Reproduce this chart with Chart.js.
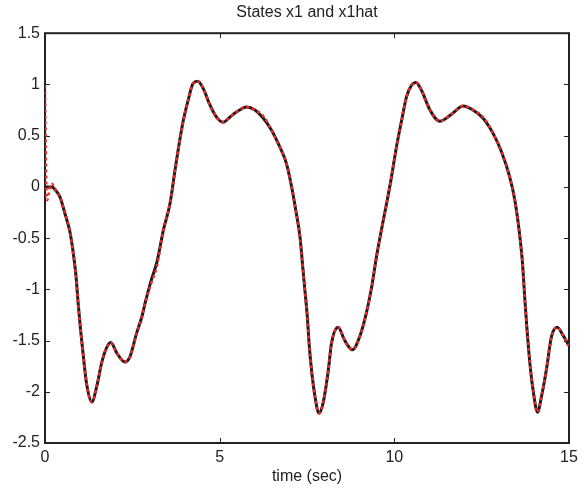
<!DOCTYPE html>
<html>
<head>
<meta charset="utf-8">
<script src="https://cdn.jsdelivr.net/npm/chart.js@4.4.1/dist/chart.umd.min.js"></script>
<style>
  html, body { margin: 0; padding: 0; background: #fff; }
  #wrap { width: 587px; height: 490px; }
</style>
</head>
<body>
<div id="wrap"><canvas id="chart" width="587" height="490"></canvas></div>
<script>
// time (sec)
const times = [
  0, 0.02, 0.04, 0.06, 0.10, 0.15, 0.20, 0.27, 0.43, 0.57,
  0.72, 0.81, 0.89, 0.95, 1.02, 1.10, 1.19, 1.34, 1.48, 1.62,
  1.75, 1.88, 2.07, 2.29, 2.43, 2.62, 2.77, 2.89, 3.05, 3.20,
  3.39, 3.58, 3.72, 3.84, 3.96, 4.10, 4.24, 4.37, 4.53, 4.72,
  4.91, 5.10, 5.29, 5.48, 5.77, 6.01, 6.25, 6.49, 6.72, 6.91,
  7.06, 7.18, 7.30, 7.37, 7.44, 7.51, 7.56, 7.63, 7.73, 7.84,
  7.96, 8.11, 8.20, 8.39, 8.58, 8.80, 9.01, 9.20, 9.35, 9.49,
  9.63, 9.78, 9.92, 10.06, 10.21, 10.35, 10.49, 10.62, 10.78, 11.02,
  11.30, 11.64, 11.97, 12.25, 12.54, 12.83, 13.07, 13.30, 13.45, 13.57,
  13.67, 13.73, 13.80, 13.88, 13.97, 14.10, 14.21, 14.35, 14.50, 14.66,
  14.83, 15.00
];

// state x1 (black solid)
const x1 = [
  0.00, 0.00, 0.00, 0.00, 0.00, 0.00, 0.00, -0.02, -0.10, -0.26,
  -0.45, -0.65, -0.88, -1.14, -1.40, -1.66, -1.92, -2.10, -1.95, -1.72,
  -1.58, -1.52, -1.63, -1.71, -1.66, -1.43, -1.27, -1.10, -0.90, -0.74,
  -0.42, -0.16, 0.16, 0.42, 0.65, 0.85, 1.01, 1.03, 0.96, 0.80,
  0.68, 0.63, 0.68, 0.73, 0.78, 0.75, 0.67, 0.55, 0.39, 0.23,
  0.00, -0.23, -0.49, -0.75, -1.01, -1.27, -1.53, -1.79, -2.05, -2.21,
  -2.11, -1.79, -1.53, -1.37, -1.50, -1.59, -1.46, -1.23, -0.98, -0.68,
  -0.42, -0.16, 0.10, 0.39, 0.65, 0.88, 0.99, 1.02, 0.94, 0.75,
  0.64, 0.71, 0.79, 0.75, 0.67, 0.52, 0.34, 0.10, -0.13, -0.42,
  -0.75, -1.07, -1.40, -1.72, -1.98, -2.20, -2.05, -1.79, -1.46, -1.37,
  -1.45, -1.55
];

// estimate x1hat (red dotted)
const x1hat = [
  0.99, 0.45, -0.05, -0.13, -0.08, 0.01, 0.03, -0.01, -0.10, -0.26,
  -0.45, -0.65, -0.88, -1.14, -1.40, -1.66, -1.92, -2.10, -1.95, -1.72,
  -1.58, -1.52, -1.63, -1.71, -1.66, -1.43, -1.27, -1.10, -0.93, -0.78,
  -0.42, -0.16, 0.16, 0.42, 0.65, 0.85, 1.01, 1.03, 0.96, 0.80,
  0.68, 0.63, 0.68, 0.73, 0.78, 0.75, 0.69, 0.55, 0.39, 0.23,
  0.00, -0.23, -0.49, -0.75, -1.01, -1.27, -1.53, -1.79, -2.05, -2.21,
  -2.11, -1.79, -1.53, -1.37, -1.50, -1.59, -1.46, -1.23, -0.98, -0.68,
  -0.42, -0.16, 0.10, 0.39, 0.65, 0.88, 0.99, 1.02, 0.94, 0.75,
  0.64, 0.71, 0.79, 0.75, 0.68, 0.52, 0.34, 0.10, -0.13, -0.42,
  -0.75, -1.07, -1.40, -1.72, -1.98, -2.20, -2.05, -1.79, -1.46, -1.37,
  -1.45, -1.55
];

const xTicks = [0, 5, 10, 15];
const yTicks = [-2.5, -2, -1.5, -1, -0.5, 0, 0.5, 1, 1.5];

const ink = '#222';
Chart.defaults.font.family = '"Liberation Sans", Arial, Helvetica, sans-serif';
Chart.defaults.font.size = 16;
Chart.defaults.color = ink;

// matlab style box with inward ticks
const boxPlugin = {
  id: 'box',
  beforeDatasetsDraw(chart) {
    const {ctx, chartArea: a, scales} = chart;
    ctx.save();
    ctx.strokeStyle = ink;
    ctx.lineWidth = 1;
    xTicks.forEach(v => {
      const px = Math.round(scales.x.getPixelForValue(v)) + 0.5;
      ctx.beginPath();
      ctx.moveTo(px, a.bottom); ctx.lineTo(px, a.bottom - 5);
      ctx.moveTo(px, a.top); ctx.lineTo(px, a.top + 5);
      ctx.stroke();
    });
    yTicks.forEach(v => {
      const py = Math.round(scales.y.getPixelForValue(v)) + 0.5;
      ctx.beginPath();
      ctx.moveTo(a.left, py); ctx.lineTo(a.left + 5, py);
      ctx.moveTo(a.right, py); ctx.lineTo(a.right - 5, py);
      ctx.stroke();
    });
    ctx.lineWidth = 2;
    ctx.strokeRect(a.left, a.top, a.right - a.left, a.bottom - a.top);
    ctx.restore();
  }
};

new Chart("chart", {
  type: "line",
  data: {
    datasets: [{
      label: 'x1',
      data: times.map((t, i) => ({x: t, y: x1[i]})),
      borderColor: '#1c1c1c',
      borderWidth: 3,
      pointRadius: 0,
      cubicInterpolationMode: 'monotone',
      fill: false,
      order: 1
    }, {
      label: 'x1hat',
      data: times.map((t, i) => ({x: t, y: x1hat[i]})),
      borderColor: '#f02828',
      borderWidth: 2.5,
      borderDash: [3, 3],
      pointRadius: 0,
      cubicInterpolationMode: 'monotone',
      fill: false,
      order: 0
    }]
  },
  options: {
    responsive: false,
    animation: false,
    layout: {padding: {left: 0, right: 18, top: 0, bottom: 0}},
    plugins: {
      legend: {display: false},
      tooltip: {enabled: false},
      title: {
        display: true,
        text: 'States x1 and x1hat',
        fullSize: false,
        color: ink,
        font: {size: 16, weight: 'normal'},
        padding: {top: 3, bottom: 11}
      }
    },
    scales: {
      x: {
        type: 'linear',
        min: 0,
        max: 15,
        afterBuildTicks: s => { s.ticks = xTicks.map(v => ({value: v})); },
        afterFit: s => { s.height = 47; },
        grid: {display: false, drawTicks: false},
        border: {display: false},
        ticks: {padding: 5, maxRotation: 0, autoSkip: false, color: ink, callback: v => String(v)},
        title: {display: true, text: 'time (sec)', color: ink, padding: 4, font: {size: 16}}
      },
      y: {
        type: 'linear',
        min: -2.5,
        max: 1.5,
        afterBuildTicks: s => { s.ticks = yTicks.map(v => ({value: v})); },
        afterFit: s => { s.width = 45; },
        grid: {display: false, drawTicks: false},
        border: {display: false},
        ticks: {padding: 5, autoSkip: false, color: ink, callback: v => String(v)}
      }
    }
  },
  plugins: [boxPlugin]
});
</script>
</body>
</html>
